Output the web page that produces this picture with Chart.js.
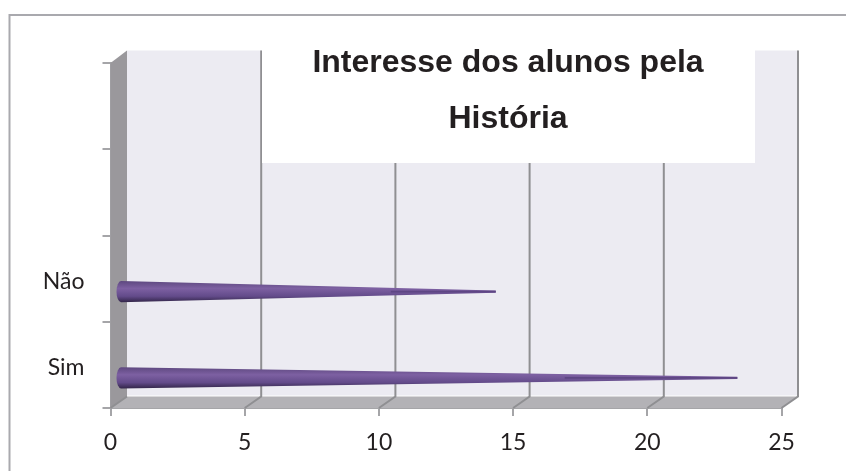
<!DOCTYPE html>
<html><head><meta charset="utf-8">
<style>html,body{margin:0;padding:0;background:#fff}#w{width:846px;height:471px;position:relative}</style>
<script src="https://cdn.jsdelivr.net/npm/chart.js@4"></script>
</head><body><div id="w"><canvas id="c" width="846" height="471"></canvas></div>
<script>
const categories = ['Sim', 'Não', '', ''];
const respostas = [23, 14, null, null];
const xTicks = [0, 5, 10, 15, 20, 25];
const titleLines = ['Interesse dos alunos pela', 'História'];

const depthX = 16.5, depthY = 11.5, coneDX = 9.5, coneDY = 13;

const scene = {
  id: 'scene',
  beforeDatasetsDraw(chart) {
    const {ctx, chartArea: a, scales: {x}} = chart;
    ctx.save();
    // outer frame (open on the right and bottom)
    ctx.strokeStyle = '#a9a9ae'; ctx.lineWidth = 2;
    ctx.beginPath(); ctx.moveTo(9.5, 471); ctx.lineTo(9.5, 15); ctx.lineTo(846, 15); ctx.stroke();
    // back wall
    ctx.fillStyle = '#ecebf2';
    ctx.fillRect(a.left + depthX, a.top - depthY - 1, a.width, a.height);
    // left wall
    ctx.fillStyle = '#9a989c';
    ctx.beginPath();
    ctx.moveTo(a.left, a.top); ctx.lineTo(a.left + depthX, a.top - depthY - 1);
    ctx.lineTo(a.left + depthX, a.bottom - depthY); ctx.lineTo(a.left, a.bottom); ctx.closePath(); ctx.fill();
    // floor
    ctx.fillStyle = '#b3b2b6';
    ctx.beginPath();
    ctx.moveTo(a.left, a.bottom); ctx.lineTo(a.left + depthX, a.bottom - depthY);
    ctx.lineTo(a.right + depthX, a.bottom - depthY); ctx.lineTo(a.right, a.bottom); ctx.closePath(); ctx.fill();
    // grid on wall and floor
    ctx.strokeStyle = '#8f8f92'; ctx.lineWidth = 2;
    xTicks.forEach(t => {
      const px = x.getPixelForValue(t);
      ctx.beginPath();
      ctx.moveTo(px, a.bottom); ctx.lineTo(px + depthX, a.bottom - depthY);
      if (t > 0) ctx.lineTo(px + depthX, a.top - depthY - 1);
      ctx.stroke();
    });
    // white panel behind the title
    ctx.fillStyle = '#fff';
    ctx.fillRect(262, 30, 493, 133);
    ctx.fillStyle = '#231f20';
    ctx.font = 'bold 32px "Liberation Sans", Arial, sans-serif';
    ctx.textAlign = 'center'; ctx.textBaseline = 'middle';
    titleLines.forEach((l, i) => ctx.fillText(l, 508, 63 + i * 56));
    ctx.restore();
  },
  beforeDatasetDraw(chart, args) {
    const {ctx} = chart;
    const meta = args.meta;
    meta.data.forEach((el, i) => {
      if (respostas[i] == null) return;
      const p = el.getProps(['x', 'y', 'base', 'height'], true);
      const x0 = p.base + coneDX, x1 = p.x + coneDX, cy = p.y + coneDY, r = p.height / 2;
      const g = ctx.createLinearGradient(0, cy - r, 0, cy + r);
      g.addColorStop(0, '#5e4880');
      g.addColorStop(0.35, '#7d60a2');
      g.addColorStop(0.72, '#634b8a');
      g.addColorStop(1, '#33264a');
      ctx.save();
      ctx.fillStyle = g;
      ctx.beginPath();
      ctx.moveTo(x1, cy - 1.2);
      ctx.lineTo(x1, cy + 1.2);
      ctx.lineTo(x0, cy + r);
      ctx.ellipse(x0, cy, 4.5, r, 0, Math.PI / 2, Math.PI * 1.5);
      ctx.closePath();
      ctx.fill();
      ctx.fillStyle = '#5e4684';
      ctx.fillRect(x0 + (x1 - x0) * 0.72, cy - 0.9, (x1 - x0) * 0.28, 1.8);
      ctx.restore();
    });
    return false;
  }
};

new Chart(document.getElementById('c'), {
  type: 'bar',
  data: {
    labels: categories,
    datasets: [{
      label: 'Interesse dos alunos pela História',
      data: respostas,
      backgroundColor: '#6a4f8e',
      categoryPercentage: 1,
      barPercentage: 0.2435
    }]
  },
  options: {
    indexAxis: 'y',
    responsive: false,
    animation: false,
    layout: {padding: {left: 0, top: 63, right: 64.5, bottom: 0}},
    plugins: {legend: {display: false}, tooltip: {enabled: false}, title: {display: false}},
    scales: {
      x: {
        min: 0, max: 25,
        afterFit(s) { s.height = 63; },
        afterBuildTicks(s) { s.ticks = xTicks.map(v => ({value: v})); },
        grid: {drawOnChartArea: false, color: '#a5a5a8', lineWidth: 2, tickLength: 8},
        border: {color: '#a5a5a8', width: 2},
        ticks: {color: '#231f20', padding: 13, maxRotation: 0, font: {family: 'Lato', size: 23}}
      },
      y: {
        reverse: true,
        afterFit(s) { s.width = 110.5; },
        grid: {drawOnChartArea: false, offset: true, color: '#a5a5a8', lineWidth: 2, tickLength: 8},
        border: {color: '#a5a5a8', width: 2},
        ticks: {color: '#231f20', padding: 18, labelOffset: 3, autoSkip: false, font: {family: 'Lato', size: 23}}
      }
    }
  },
  plugins: [scene]
});
</script></body></html>
